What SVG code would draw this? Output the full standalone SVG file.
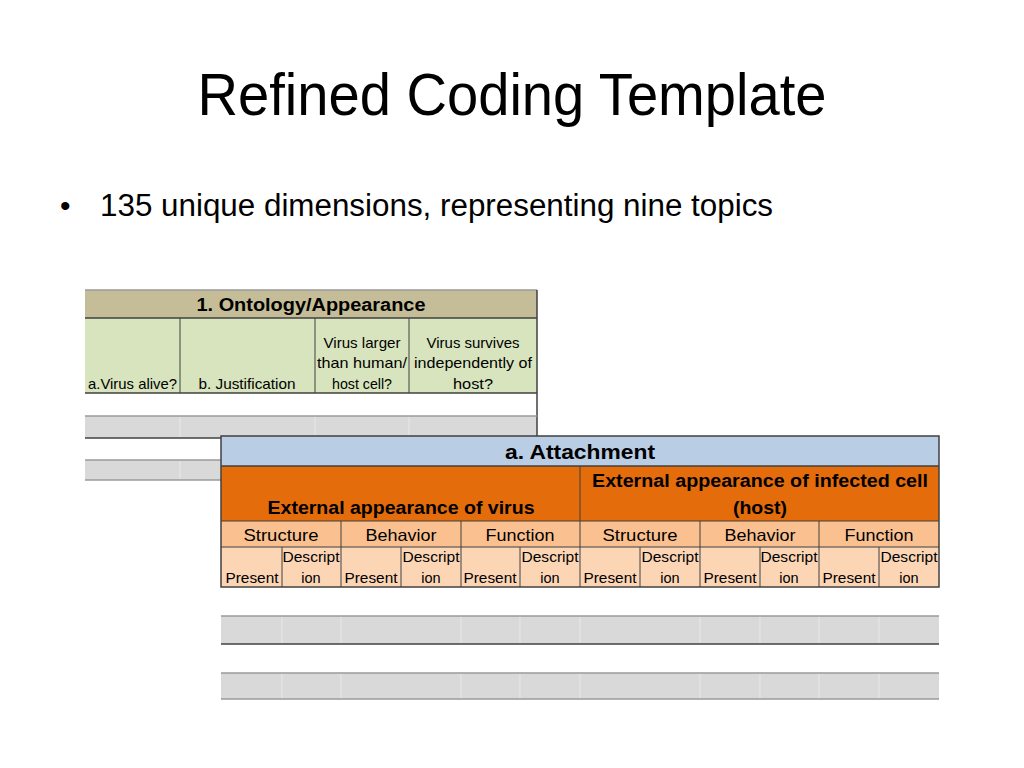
<svg xmlns="http://www.w3.org/2000/svg" width="1024" height="768" viewBox="0 0 1024 768">
<style>
text{font-family:"Liberation Sans",Arial,sans-serif;fill:#000}
.c{text-anchor:middle}
.b{font-weight:bold}
.t1{font-size:14.5px}
.t2{font-size:16.5px}
.t3{font-size:14.5px}
.dk{stroke:#404040;stroke-width:1.5;fill:none}
.lt{stroke:#9a9a9a;stroke-width:1.5;fill:none}
.wv{stroke:#e8e8e8;stroke-width:1}
.cv{stroke:#404040;stroke-width:1}
</style>
<rect width="1024" height="768" fill="#fff"/>
<g id="title">
<text x="512" y="115" class="c" font-size="60" textLength="629" lengthAdjust="spacingAndGlyphs">Refined Coding Template</text>
</g>
<g id="bullet">
<text x="60" y="216" font-size="30">•</text>
<text x="100" y="216" font-size="31" textLength="673" lengthAdjust="spacingAndGlyphs">135 unique dimensions, representing nine topics</text>
</g>
<g id="table1">
<rect x="85" y="290" width="452" height="28" fill="#C4BD97"/>
<rect x="85" y="318" width="452" height="75" fill="#D7E4BD"/>
<rect x="85" y="416" width="452" height="22" fill="#D9D9D9"/>
<rect x="85" y="460" width="452" height="20" fill="#D9D9D9"/>
<g class="wv">
<line x1="180" y1="416" x2="180" y2="438"/><line x1="315" y1="416" x2="315" y2="438"/><line x1="409" y1="416" x2="409" y2="438"/>
<line x1="180" y1="460" x2="180" y2="480"/>
</g>
<g class="cv">
<line x1="180" y1="318" x2="180" y2="393"/><line x1="315" y1="318" x2="315" y2="393"/><line x1="409" y1="318" x2="409" y2="393"/>
</g>
<line x1="85" y1="290" x2="537" y2="290" class="lt"/>
<line x1="85" y1="318" x2="537" y2="318" class="dk"/>
<line x1="85" y1="393" x2="537" y2="393" class="dk"/>
<line x1="537" y1="290" x2="537" y2="438" class="dk"/>
<line x1="85" y1="416" x2="537" y2="416" class="lt"/>
<line x1="85" y1="438" x2="537" y2="438" class="dk"/>
<line x1="85" y1="460" x2="222" y2="460" class="lt"/>
<line x1="85" y1="480" x2="222" y2="480" class="lt"/>
<text x="311" y="311" class="c b" font-size="18" textLength="229" lengthAdjust="spacingAndGlyphs">1. Ontology/Appearance</text>
<text x="88" y="389" class="t1" textLength="89" lengthAdjust="spacingAndGlyphs">a.Virus alive?</text>
<text x="247" y="389" class="c t1" textLength="97" lengthAdjust="spacingAndGlyphs">b. Justification</text>
<text x="362" y="348" class="c t1" textLength="77" lengthAdjust="spacingAndGlyphs">Virus larger</text>
<text x="362" y="368" class="c t1" textLength="90" lengthAdjust="spacingAndGlyphs">than human/</text>
<text x="362" y="389" class="c t1" textLength="60" lengthAdjust="spacingAndGlyphs">host cell?</text>
<text x="473" y="348" class="c t1" textLength="93" lengthAdjust="spacingAndGlyphs">Virus survives</text>
<text x="473" y="368" class="c t1" textLength="118" lengthAdjust="spacingAndGlyphs">independently of</text>
<text x="473" y="389" class="c t1" textLength="40" lengthAdjust="spacingAndGlyphs">host?</text>
</g>
<g id="table2">
<rect x="221" y="436" width="718" height="30" fill="#B9CDE5"/>
<rect x="221" y="466" width="718" height="55" fill="#E46C0A"/>
<rect x="221" y="521" width="718" height="26" fill="#FAC090"/>
<rect x="221" y="547" width="718" height="40" fill="#FCD5B5"/>
<rect x="221" y="616" width="718" height="28" fill="#D9D9D9"/>
<rect x="221" y="673" width="718" height="26" fill="#D9D9D9"/>
<g class="wv">
<line x1="282" y1="616" x2="282" y2="644"/><line x1="341" y1="616" x2="341" y2="644"/><line x1="461" y1="616" x2="461" y2="644"/><line x1="520" y1="616" x2="520" y2="644"/><line x1="580" y1="616" x2="580" y2="644"/><line x1="700" y1="616" x2="700" y2="644"/><line x1="760" y1="616" x2="760" y2="644"/><line x1="819" y1="616" x2="819" y2="644"/><line x1="879" y1="616" x2="879" y2="644"/>
<line x1="282" y1="673" x2="282" y2="699"/><line x1="341" y1="673" x2="341" y2="699"/><line x1="461" y1="673" x2="461" y2="699"/><line x1="520" y1="673" x2="520" y2="699"/><line x1="580" y1="673" x2="580" y2="699"/><line x1="700" y1="673" x2="700" y2="699"/><line x1="760" y1="673" x2="760" y2="699"/><line x1="819" y1="673" x2="819" y2="699"/><line x1="879" y1="673" x2="879" y2="699"/>
</g>
<g class="cv">
<line x1="580" y1="466" x2="580" y2="587"/>
<line x1="341" y1="521" x2="341" y2="587"/><line x1="461" y1="521" x2="461" y2="587"/><line x1="700" y1="521" x2="700" y2="587"/><line x1="819" y1="521" x2="819" y2="587"/>
<line x1="282" y1="547" x2="282" y2="587"/><line x1="401" y1="547" x2="401" y2="587"/><line x1="520" y1="547" x2="520" y2="587"/><line x1="640" y1="547" x2="640" y2="587"/><line x1="760" y1="547" x2="760" y2="587"/><line x1="879" y1="547" x2="879" y2="587"/>
</g>
<rect x="221" y="436" width="718" height="151" class="dk"/>
<line x1="221" y1="466" x2="939" y2="466" class="dk"/>
<line x1="221" y1="521" x2="939" y2="521" class="cv"/>
<line x1="221" y1="547" x2="939" y2="547" class="cv"/>
<line x1="221" y1="616" x2="939" y2="616" class="lt"/>
<line x1="221" y1="644" x2="939" y2="644" class="dk"/>
<line x1="221" y1="673" x2="939" y2="673" class="lt"/>
<line x1="221" y1="699" x2="939" y2="699" class="lt"/>
<text x="580" y="459" class="c b" font-size="20" textLength="150" lengthAdjust="spacingAndGlyphs">a. Attachment</text>
<text x="401" y="514" class="c b" font-size="18" textLength="267" lengthAdjust="spacingAndGlyphs">External appearance of virus</text>
<text x="760" y="487" class="c b" font-size="18" textLength="336" lengthAdjust="spacingAndGlyphs">External appearance of infected cell</text>
<text x="760" y="514" class="c b" font-size="18" textLength="54" lengthAdjust="spacingAndGlyphs">(host)</text>
<g class="t2">
<text x="281" y="541" class="c" textLength="75" lengthAdjust="spacingAndGlyphs">Structure</text>
<text x="401" y="541" class="c" textLength="71" lengthAdjust="spacingAndGlyphs">Behavior</text>
<text x="520" y="541" class="c" textLength="69" lengthAdjust="spacingAndGlyphs">Function</text>
<text x="640" y="541" class="c" textLength="75" lengthAdjust="spacingAndGlyphs">Structure</text>
<text x="760" y="541" class="c" textLength="71" lengthAdjust="spacingAndGlyphs">Behavior</text>
<text x="879" y="541" class="c" textLength="69" lengthAdjust="spacingAndGlyphs">Function</text>
</g>
<g class="t3">
<text x="252" y="583" class="c" textLength="53" lengthAdjust="spacingAndGlyphs">Present</text>
<text x="311" y="562" class="c" textLength="57" lengthAdjust="spacingAndGlyphs">Descript</text>
<text x="311" y="583" class="c">ion</text>
<text x="371" y="583" class="c" textLength="53" lengthAdjust="spacingAndGlyphs">Present</text>
<text x="431" y="562" class="c" textLength="57" lengthAdjust="spacingAndGlyphs">Descript</text>
<text x="431" y="583" class="c">ion</text>
<text x="490" y="583" class="c" textLength="53" lengthAdjust="spacingAndGlyphs">Present</text>
<text x="550" y="562" class="c" textLength="57" lengthAdjust="spacingAndGlyphs">Descript</text>
<text x="550" y="583" class="c">ion</text>
<text x="610" y="583" class="c" textLength="53" lengthAdjust="spacingAndGlyphs">Present</text>
<text x="670" y="562" class="c" textLength="57" lengthAdjust="spacingAndGlyphs">Descript</text>
<text x="670" y="583" class="c">ion</text>
<text x="730" y="583" class="c" textLength="53" lengthAdjust="spacingAndGlyphs">Present</text>
<text x="789" y="562" class="c" textLength="57" lengthAdjust="spacingAndGlyphs">Descript</text>
<text x="789" y="583" class="c">ion</text>
<text x="849" y="583" class="c" textLength="53" lengthAdjust="spacingAndGlyphs">Present</text>
<text x="909" y="562" class="c" textLength="57" lengthAdjust="spacingAndGlyphs">Descript</text>
<text x="909" y="583" class="c">ion</text>
</g>
</g>
</svg>
